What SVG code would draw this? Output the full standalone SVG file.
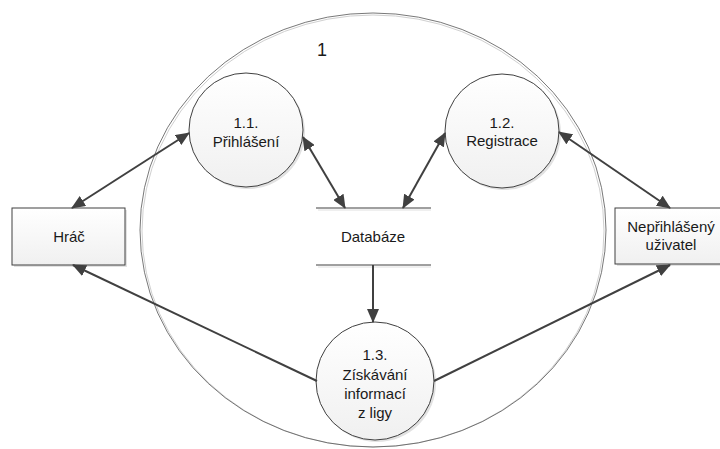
<svg xmlns="http://www.w3.org/2000/svg" width="720" height="449" viewBox="0 0 720 449">
<style>
text{font-family:"Liberation Sans",Arial,sans-serif;font-size:15px;fill:#1a1a1a;text-anchor:middle}
.node{fill:url(#g);stroke:#404040;stroke-width:1}
.sh{fill:#e2e2e2;stroke:none}
.con{stroke:#404040;stroke-width:2;fill:none}
.bi{marker-start:url(#ah);marker-end:url(#ah)}
.uni{marker-end:url(#ah)}
</style>
<defs>
<linearGradient id="g" x1="0" y1="0" x2="0" y2="1">
<stop offset="0" stop-color="#ffffff"/>
<stop offset="1" stop-color="#f0f0f0"/>
</linearGradient>
<marker id="ah" markerUnits="userSpaceOnUse" markerWidth="14" markerHeight="12" refX="13" refY="6" orient="auto-start-reverse" viewBox="0 0 14 12">
<path d="M0,0 L14,6 L0,12 Z" fill="#404040"/>
</marker>
</defs>
<g id="boundary">
<ellipse cx="373" cy="231" rx="231" ry="216" fill="none" stroke="#d0d0d0" stroke-width="1"/>
<ellipse cx="373" cy="230" rx="233" ry="217" fill="none" stroke="#555" stroke-width="0.8"/>
<text x="322" y="56" style="font-size:18px">1</text>
</g>
<g id="p11">
<circle class="sh" cx="248" cy="132" r="57"/>
<circle class="node" cx="246" cy="130" r="57"/>
<text x="246" y="128">1.1.</text>
<text x="246" y="147">Přihlášení</text>
</g>
<g id="p12">
<circle class="sh" cx="504" cy="133" r="57"/>
<circle class="node" cx="502" cy="131" r="57"/>
<text x="502" y="128">1.2.</text>
<text x="502" y="146">Registrace</text>
</g>
<g id="p13">
<circle class="sh" cx="377" cy="383" r="59"/>
<circle class="node" cx="375" cy="381" r="59"/>
<text x="375" y="360">1.3.</text>
<text x="375" y="380">Získávání</text>
<text x="375" y="399">informací</text>
<text x="375" y="418">z ligy</text>
</g>
<g id="hrac">
<rect class="sh" x="14" y="210" width="113" height="57"/>
<rect class="node" x="12" y="208" width="113" height="57"/>
<text x="69" y="242">Hráč</text>
</g>
<g id="neprihlaseny">
<rect class="sh" x="617" y="210" width="113" height="56"/>
<rect class="node" x="615" y="208" width="113" height="56"/>
<text x="671" y="232">Nepřihlášený</text>
<text x="671" y="250">uživatel</text>
</g>
<g id="databaze">
<line x1="316" y1="208" x2="431" y2="208" stroke="#404040" stroke-width="1"/>
<line x1="318" y1="210" x2="431" y2="210" stroke="#e0e0e0" stroke-width="1"/>
<line x1="316" y1="265" x2="431" y2="265" stroke="#404040" stroke-width="1"/>
<line x1="318" y1="267" x2="431" y2="267" stroke="#e0e0e0" stroke-width="1"/>
<text x="373" y="242">Databáze</text>
</g>
<g id="connectors">
<line class="con bi" x1="72" y1="208" x2="189" y2="133"/>
<line class="con bi" x1="303" y1="137" x2="345" y2="208"/>
<line class="con bi" x1="445" y1="133" x2="403" y2="208"/>
<line class="con bi" x1="559" y1="132" x2="670" y2="208"/>
<line class="con uni" x1="317" y1="381" x2="73" y2="265"/>
<line class="con uni" x1="434" y1="381" x2="670" y2="265"/>
<line class="con uni" x1="373" y1="265" x2="373" y2="322"/>
</g>
</svg>
